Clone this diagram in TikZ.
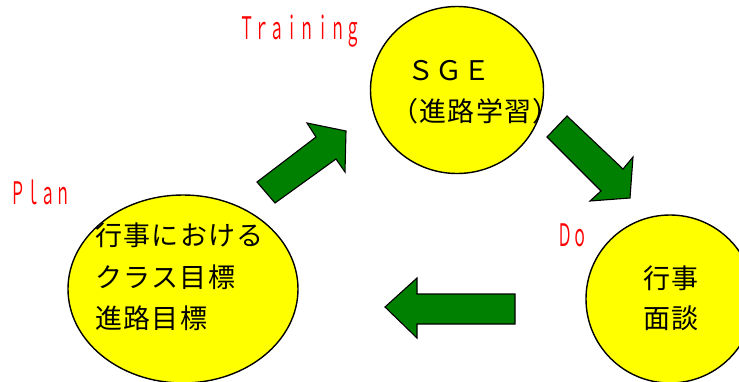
\documentclass[tikz,border=0pt]{standalone}
\usepackage{fontspec}
\usetikzlibrary{shapes.geometric}
\newfontfamily\jp{Noto Sans CJK JP}
\newfontfamily\jpspaced[LetterSpace=5]{Noto Sans CJK JP}
\definecolor{arrgreen}{RGB}{0,128,0}
\definecolor{ballyellow}{RGB}{255,255,0}
\tikzset{
  ball/.style={ellipse, draw=black, line width=1.4pt, fill=ballyellow, inner sep=0pt},
  blockarrow/.style={draw=black, line width=1.1pt, fill=arrgreen, line join=miter},
  jptext/.style={anchor=base west, inner sep=0pt, font=\jpspaced\fontsize{27}{32}\selectfont, text=black},
  redlabel/.style={anchor=base west, inner sep=0pt, font=\jp\fontsize{31}{36}\selectfont, text=red}
}
\newcommand{\squeezed}[1]{\scalebox{0.49}[1]{#1}}
\begin{document}
\begin{tikzpicture}[x=1pt,y=-1pt]
\useasboundingbox (0,0) rectangle (739,381);
% balls
\node[ball, minimum width=173pt, minimum height=167pt] (sge) at (457,90) {};
\node[ball, minimum width=230pt, minimum height=188pt] (plan) at (183,289) {};
\node[ball, minimum width=168pt, minimum height=168pt] (do) at (670,299) {};
% arrows
\draw[blockarrow] (257,182) -- (316,137) -- (307,123) -- (346,131) -- (345,172) -- (336,159) -- (275,203) -- cycle;
\draw[blockarrow] (547,137) -- (567,116) -- (623,169) -- (633,157) -- (630,198) -- (590,201) -- (601,191) -- cycle;
\draw[blockarrow] (515,294) -- (417,294) -- (417,278) -- (385,307) -- (417,338) -- (417,324) -- (515,324) -- cycle;
% texts
\node[jptext] (sge1) at (407,80) {ＳＧＥ};
\node[jptext] (sge2) at (391,121) {（進路学習）};
\node[jptext] (plan1) at (95,245) {行事における};
\node[jptext] (plan2) at (95,287) {クラス目標};
\node[jptext] (plan3) at (95,328) {進路目標};
\node[jptext] (do1) at (643,288) {行事};
\node[jptext] (do2) at (643,328) {面談};
% red labels
\node[redlabel] (ltrain) at (239,39) {\squeezed{Ｔｒａｉｎｉｎｇ}};
\node[redlabel] (lplan) at (10,204) {\squeezed{Ｐｌａｎ}};
\node[redlabel] (ldo) at (557,246) {\squeezed{Ｄｏ}};
\end{tikzpicture}
\end{document}
